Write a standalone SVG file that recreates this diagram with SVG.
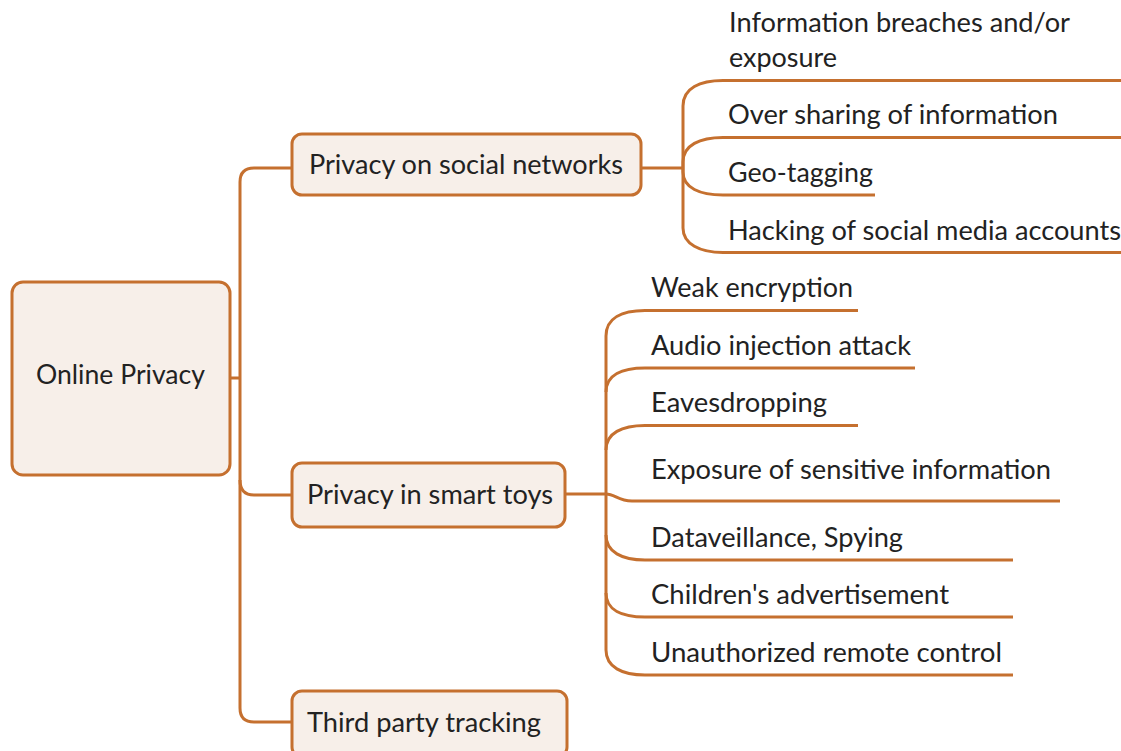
<svg xmlns="http://www.w3.org/2000/svg" width="1121" height="751" viewBox="0 0 1121 751">
<style>
.box{fill:#f7efe9;stroke:#c5702f;stroke-width:3}
.ln{fill:none;stroke:#c5702f;stroke-width:3;stroke-linecap:butt}
text{font-family:Lato,"Liberation Sans",sans-serif;font-size:27px;fill:#222}
</style>
<rect width="1121" height="751" fill="#ffffff"/>
<g id="connectors">
<path class="ln" d="M230 378 H240"/>
<path class="ln" d="M292 168 H254 Q240 168 240 182 V708 Q240 722 254 722 H292"/>
<path class="ln" d="M240 480 Q240 495 254 495 H292"/>
<path class="ln" d="M641 168 H683"/>
<path class="ln" d="M1121 80.5 H723 C700 80.5 683 88 683 106 V228 C683 244 700 252.5 723 252.5 H1121"/>
<path class="ln" d="M1121 137.5 H723 C700 137.5 683 145 683 162 V168"/>
<path class="ln" d="M683 168 V172 C683 188 700 195 723 195 H875"/>
<path class="ln" d="M565 494 H606"/>
<path class="ln" d="M858 310.5 H645 C622 310.5 606 318 606 336 V650 C606 667 622 675 645 675 H1013"/>
<path class="ln" d="M915 368 H645 C622 368 606 375 606 392"/>
<path class="ln" d="M858 425.5 H645 C622 425.5 606 433 606 450"/>
<path class="ln" d="M606 494 C615 494 618 501 632 501 H1060"/>
<path class="ln" d="M606 535 C606 552 622 560 645 560 H1013"/>
<path class="ln" d="M606 593 C606 610 622 617 645 617 H1013"/>
</g>
<g id="node-root">
<rect class="box" x="12" y="282" width="218" height="193" rx="11"/>
<text x="36" y="384" textLength="169" lengthAdjust="spacingAndGlyphs">Online Privacy</text>
</g>
<g id="node-social">
<rect class="box" x="292" y="134" width="349" height="61" rx="10"/>
<text x="309" y="174" textLength="314" lengthAdjust="spacingAndGlyphs">Privacy on social networks</text>
</g>
<g id="node-toys">
<rect class="box" x="292" y="463" width="273" height="64" rx="10"/>
<text x="307" y="504" textLength="246" lengthAdjust="spacingAndGlyphs">Privacy in smart toys</text>
</g>
<g id="node-third">
<rect class="box" x="292" y="691" width="275" height="66" rx="10"/>
<text x="307" y="732" textLength="234" lengthAdjust="spacingAndGlyphs">Third party tracking</text>
</g>
<g id="leaf-breaches">
<text x="729" y="32" textLength="341" lengthAdjust="spacingAndGlyphs">Information breaches and/or</text>
<text x="729" y="67" textLength="108" lengthAdjust="spacingAndGlyphs">exposure</text>
</g>
<g id="leaf-oversharing"><text x="728" y="124" textLength="330" lengthAdjust="spacingAndGlyphs">Over sharing of information</text></g>
<g id="leaf-geotagging"><text x="728" y="182" textLength="145" lengthAdjust="spacingAndGlyphs">Geo-tagging</text></g>
<g id="leaf-hacking"><text x="728" y="240" textLength="393" lengthAdjust="spacingAndGlyphs">Hacking of social media accounts</text></g>
<g id="leaf-weak"><text x="651" y="297" textLength="202" lengthAdjust="spacingAndGlyphs">Weak encryption</text></g>
<g id="leaf-audio"><text x="651" y="355" textLength="260" lengthAdjust="spacingAndGlyphs">Audio injection attack</text></g>
<g id="leaf-eaves"><text x="651" y="412" textLength="176" lengthAdjust="spacingAndGlyphs">Eavesdropping</text></g>
<g id="leaf-exposure"><text x="651" y="479" textLength="400" lengthAdjust="spacingAndGlyphs">Exposure of sensitive information</text></g>
<g id="leaf-dataveillance"><text x="651" y="547" textLength="252" lengthAdjust="spacingAndGlyphs">Dataveillance, Spying</text></g>
<g id="leaf-children"><text x="651" y="604" textLength="298" lengthAdjust="spacingAndGlyphs">Children's advertisement</text></g>
<g id="leaf-remote"><text x="651" y="662" textLength="351" lengthAdjust="spacingAndGlyphs">Unauthorized remote control</text></g>
</svg>
